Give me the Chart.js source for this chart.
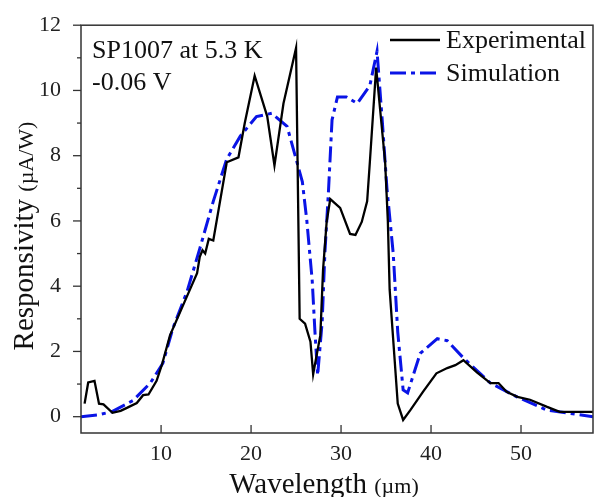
<!DOCTYPE html>
<html>
<head>
<meta charset="utf-8">
<script src="https://cdn.jsdelivr.net/npm/chart.js@4.4.1/dist/chart.umd.min.js"></script>
<style>
html,body{margin:0;padding:0;background:#fff;}
#wrap{width:595px;height:497px;}
</style>
</head>
<body>
<div id="wrap"><canvas id="c" width="595" height="497"></canvas></div>
<script>
// measured data (wavelength in um, responsivity in uA/W)
var expX=[1.5,1.9,2.6,3.1,3.6,4.6,5.5,6.2,7.3,8.0,8.6,9.5,10.1,11.0,12.5,14.0,14.3,14.6,14.9,15.3,15.8,17.3,18.6,19.3,20.4,21.8,22.6,23.6,25.0,25.4,26.0,26.6,26.9,27.7,28.0,28.4,28.8,29.9,31.0,31.6,32.3,32.9,33.2,33.9,34.9,35.2,35.4,36.3,36.9,37.7,39.1,40.6,41.8,42.7,43.6,45.1,46.6,47.5,48.4,49.6,51.0,52.9,54.3,58.0];
var expY=[0.4,1.05,1.1,0.4,0.38,0.12,0.18,0.27,0.42,0.66,0.68,1.1,1.6,2.5,3.45,4.4,4.9,5.1,5.0,5.45,5.4,7.8,7.95,9.0,10.45,9.2,7.7,9.6,11.3,3.0,2.85,2.3,1.3,2.5,4.5,5.97,6.67,6.4,5.6,5.57,5.97,6.6,7.8,10.7,7.8,6.0,3.9,0.4,-0.1,0.2,0.76,1.33,1.49,1.58,1.73,1.36,1.03,1.03,0.76,0.61,0.52,0.3,0.15,0.15];
var simX=[1.1,2.9,4.5,6.9,8.8,10.2,11.3,12.9,14.3,15.8,17.3,18.8,20.6,22.3,24.0,25.1,25.7,26.2,26.8,27.1,27.4,27.9,28.2,28.6,29.0,29.6,30.6,31.8,33.2,34.0,34.6,35.1,35.8,36.3,36.9,37.4,38.8,40.7,41.8,43.6,46.6,49.6,52.9,58.0];
var simY=[0,0.05,0.15,0.5,1.03,1.64,2.7,3.85,5.15,6.6,7.9,8.6,9.2,9.3,8.9,7.8,7.2,6.0,4.15,2.6,1.27,2.9,5.0,6.9,9.1,9.8,9.8,9.6,10.15,11.2,9.0,7.0,5.0,2.6,0.82,0.73,1.94,2.39,2.33,1.8,1.03,0.6,0.2,0.0];
var xTicks=[10,20,30,40,50];
var yTicks=[0,1,2,3,4,5,6,7,8,9,10,11,12];
var seriesNames=['Experimental','Simulation'];
var noteLines=['SP1007 at 5.3 K','-0.06 V'];

var SERIF='"Liberation Serif","DejaVu Serif",serif';
var BLUE='#0a14e6';
var DASH=[16,5,4,5];

function pts(xs,ys){return xs.map(function(x,i){return{x:x,y:ys[i]};});}

var deco={
  id:'deco',
  afterDraw:function(chart){
    var ctx=chart.ctx,a=chart.chartArea,xs=chart.scales.x,ys=chart.scales.y;
    ctx.save();
    // frame
    ctx.strokeStyle='#333';ctx.lineWidth=1.5;
    ctx.strokeRect(a.left,a.top,a.right-a.left,a.bottom-a.top);
    // y ticks (outside), minor on odd values
    ctx.lineWidth=1.3;
    yTicks.forEach(function(v){
      var py=ys.getPixelForValue(v),len=v%2===0?8:4;
      ctx.beginPath();ctx.moveTo(a.left-len,py);ctx.lineTo(a.left,py);ctx.stroke();
    });
    // x ticks (inside)
    xTicks.forEach(function(v){
      var px=xs.getPixelForValue(v);
      ctx.beginPath();ctx.moveTo(px,a.bottom);ctx.lineTo(px,a.bottom-8);ctx.stroke();
    });
    ctx.fillStyle='#111';ctx.textBaseline='alphabetic';
    // x title
    ctx.font='29px '+SERIF;
    var t1='Wavelength ',w1=ctx.measureText(t1).width;
    ctx.font='22px '+SERIF;
    var t2='(\u00b5m)',w2=ctx.measureText(t2).width;
    var x0=324-(w1+w2)/2;
    ctx.font='29px '+SERIF;ctx.textAlign='left';ctx.fillText(t1,x0,493);
    ctx.font='22px '+SERIF;ctx.fillText(t2,x0+w1,493);
    // y title
    ctx.save();
    ctx.translate(33,236);ctx.rotate(-Math.PI/2);
    ctx.font='29px '+SERIF;
    var r1='Responsivity ',rw1=ctx.measureText(r1).width;
    ctx.font='22px '+SERIF;
    var r2='(\u00b5A/W)',rw2=ctx.measureText(r2).width;
    var y0=-(rw1+rw2)/2;
    ctx.font='29px '+SERIF;ctx.fillText(r1,y0,0);
    ctx.font='22px '+SERIF;ctx.fillText(r2,y0+rw1,0);
    ctx.restore();
    // annotation
    ctx.font='26px '+SERIF;ctx.textAlign='left';
    ctx.fillText(noteLines[0],92,58);
    ctx.fillText(noteLines[1],92,90);
    // legend
    var ds=chart.data.datasets;
    [[40,48],[73,81]].forEach(function(p,i){
      ctx.save();
      ctx.strokeStyle=ds[i].borderColor;ctx.lineWidth=ds[i].borderWidth;
      ctx.setLineDash(ds[i].borderDash||[]);
      ctx.beginPath();ctx.moveTo(390,p[0]);ctx.lineTo(440,p[0]);ctx.stroke();
      ctx.restore();
      ctx.font='26px '+SERIF;ctx.fillStyle='#111';
      ctx.fillText(seriesNames[i],446,p[1]);
    });
    ctx.restore();
  }
};

new Chart(document.getElementById('c'),{
  type:'line',
  data:{datasets:[
    {label:seriesNames[0],data:pts(expX,expY),borderColor:'#000',borderWidth:2.3,pointRadius:0,tension:0,fill:false},
    {label:seriesNames[1],data:pts(simX,simY),borderColor:BLUE,borderWidth:3,borderDash:DASH,pointRadius:0,tension:0,fill:false}
  ]},
  options:{
    responsive:false,animation:false,
    layout:{padding:{top:21,right:2,left:0,bottom:0}},
    plugins:{legend:{display:false},tooltip:{enabled:false}},
    scales:{
      x:{type:'linear',min:1.1,max:58,
        afterFit:function(s){s.height=64;},
        afterBuildTicks:function(s){s.ticks=xTicks.map(function(v){return{value:v};});},
        grid:{display:false},border:{display:false},
        ticks:{font:{family:SERIF,size:22},color:'#222',padding:0,maxRotation:0}},
      y:{type:'linear',min:-0.5,max:12,
        afterFit:function(s){s.width=81;},
        afterBuildTicks:function(s){s.ticks=yTicks.map(function(v){return{value:v};});},
        grid:{display:false},border:{display:false},
        ticks:{font:{family:SERIF,size:22},color:'#222',padding:12,
          callback:function(v){return v%2===0?String(v):'';}}}
    }
  },
  plugins:[deco]
});
</script>
</body>
</html>
